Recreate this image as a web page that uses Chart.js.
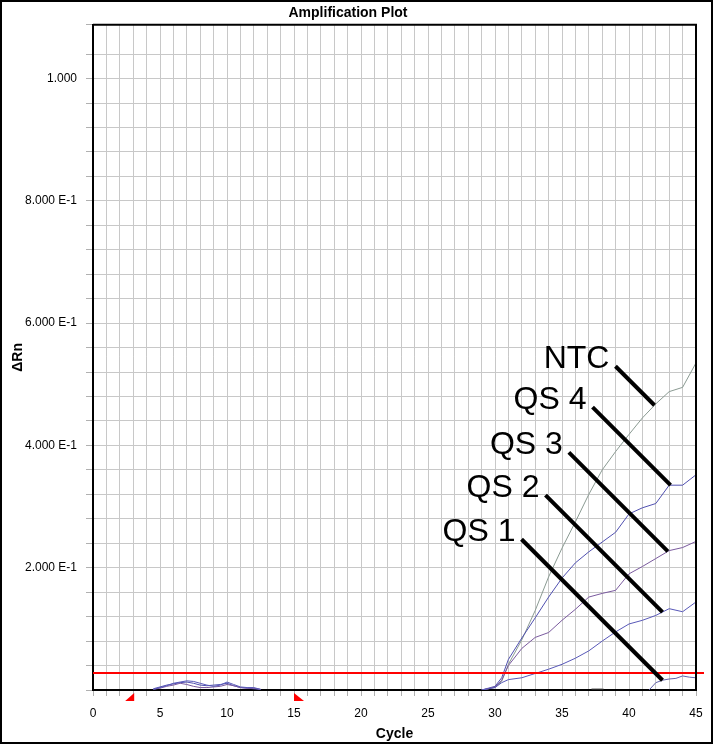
<!DOCTYPE html>
<html>
<head>
<meta charset="utf-8">
<script src="https://cdn.jsdelivr.net/npm/chart.js@4.4.1/dist/chart.umd.min.js"></script>
<style>
    html, body { margin: 0; padding: 0; background: #fff; }
    canvas { display: block; }
</style>
</head>
<body>
<canvas id="migrafico" width="713" height="744"></canvas>
<script>
// ciclos del tramo de ruido de linea base
const ciclosRuido = [4.5, 5, 5.5, 6, 6.5, 7, 7.5, 8, 8.5, 9, 9.5, 10, 10.5, 11, 11.5, 12, 12.5];
const ruidoA = [0.001, 0.004, 0.007, 0.011, 0.013, 0.015, 0.014, 0.011, 0.008, 0.006, 0.008, 0.013, 0.009, 0.005, 0.004, 0.004, 0.001];
const ruidoB = [0.001, 0.003, 0.006, 0.008, 0.011, 0.009, 0.006, 0.004, 0.004, 0.005, 0.006, 0.009, 0.007, 0.004, 0.003, 0.003, 0.001];
const ruidoC = [0.002, 0.005, 0.008, 0.010, 0.012, 0.013, 0.011, 0.008, 0.007, 0.008, 0.009, 0.011, 0.007, 0.004, 0.003, 0.002, 0.001];

// ciclos de la amplificacion
const ciclos = [29, 29.5, 30, 30.5, 31, 32, 33, 34, 35, 36, 37, 38, 39, 40, 41, 42, 43, 44, 45];
const ntc = [0, 0.002, 0.004, 0.014, 0.042, 0.082, 0.130, 0.185, 0.232, 0.275, 0.320, 0.360, 0.390, 0.418, 0.445, 0.468, 0.488, 0.495, 0.535];
const qs4 = [0, 0.003, 0.006, 0.020, 0.050, 0.085, 0.118, 0.152, 0.183, 0.208, 0.226, 0.242, 0.258, 0.288, 0.298, 0.305, 0.335, 0.335, 0.352];
const qs3 = [0, 0.002, 0.005, 0.016, 0.040, 0.068, 0.086, 0.094, 0.114, 0.132, 0.152, 0.158, 0.163, 0.190, 0.202, 0.215, 0.228, 0.233, 0.243];
const qs2 = [0, 0.002, 0.004, 0.012, 0.017, 0.020, 0.027, 0.034, 0.042, 0.052, 0.064, 0.080, 0.095, 0.108, 0.114, 0.122, 0.133, 0.128, 0.144];

const ciclosQs1 = [41.5, 42, 42.5, 43, 43.5, 44, 44.5, 45];
const qs1 = [0, 0.012, 0.016, 0.018, 0.019, 0.023, 0.021, 0.020];

const ciclosResto = [37.2, 38.1];
const resto = [0.002, 0.002];

// umbral y marcas de linea base
const umbral = 0.028;
const lineaBase = [3, 15];

// etiquetas de ejes
const ticksX = [0, 5, 10, 15, 20, 25, 30, 35, 40, 45];
const ticksY = [0.2, 0.4, 0.6, 0.8, 1.0];
const textosY = ['2.000 E-1', '4.000 E-1', '6.000 E-1', '8.000 E-1', '1.000'];

function puntos(tramos) {
    let arr = [];
    tramos.forEach((t, i) => {
        if (i > 0) arr.push({ x: t[0][0] - 0.1, y: null });
        t[0].forEach((c, j) => arr.push({ x: c, y: t[1][j] }));
    });
    return arr;
}

function valorEn(xs, ys, c) {
    for (let i = 0; i < xs.length - 1; i++) {
        if (c >= xs[i] && c <= xs[i + 1]) {
            const t = (c - xs[i]) / (xs[i + 1] - xs[i]);
            return ys[i] + t * (ys[i + 1] - ys[i]);
        }
    }
    return ys[ys.length - 1];
}

// etiquetas grandes con linea guia
const anotaciones = [
    { texto: 'NTC', ciclo: 41.9, xs: ciclos, ys: ntc, largo: 39 },
    { texto: 'QS 4', ciclo: 43.1, xs: ciclos, ys: qs4, largo: 78 },
    { texto: 'QS 3', ciclo: 42.9, xs: ciclos, ys: qs3, largo: 99 },
    { texto: 'QS 2', ciclo: 42.5, xs: ciclos, ys: qs2, largo: 117 },
    { texto: 'QS 1', ciclo: 42.5, xs: ciclosQs1, ys: qs1, largo: 141 }
];

const extras = {
    id: 'extras',
    beforeDraw(chart) {
        const ctx = chart.ctx;
        ctx.save();
        ctx.fillStyle = '#fff';
        ctx.fillRect(0, 0, chart.width, chart.height);
        ctx.restore();
    },
    afterDatasetsDraw(chart) {
        const ctx = chart.ctx;
        const a = chart.chartArea;
        const sx = chart.scales.x;
        const sy = chart.scales.y;
        ctx.save();

        // linea de umbral
        const yu = sy.getPixelForValue(umbral);
        ctx.strokeStyle = '#ff0000';
        ctx.lineWidth = 2;
        ctx.beginPath();
        ctx.moveTo(a.left, yu);
        ctx.lineTo(a.right + 8, yu);
        ctx.stroke();

        // marco superior y derecho
        ctx.strokeStyle = '#000';
        ctx.lineWidth = 2;
        ctx.beginPath();
        ctx.moveTo(a.left, a.top);
        ctx.lineTo(a.right, a.top);
        ctx.lineTo(a.right, a.bottom);
        ctx.stroke();

        // triangulos de linea base
        ctx.fillStyle = '#ff0000';
        const yb = a.bottom + 3;
        let x1 = sx.getPixelForValue(lineaBase[0]);
        ctx.beginPath();
        ctx.moveTo(x1 + 1, yb);
        ctx.lineTo(x1 + 1, yb + 8);
        ctx.lineTo(x1 - 8, yb + 8);
        ctx.closePath();
        ctx.fill();
        let x2 = sx.getPixelForValue(lineaBase[1]);
        ctx.beginPath();
        ctx.moveTo(x2, yb);
        ctx.lineTo(x2, yb + 8);
        ctx.lineTo(x2 + 10, yb + 8);
        ctx.closePath();
        ctx.fill();

        // anotaciones
        ctx.font = '32px "Liberation Sans", Arial, sans-serif';
        ctx.textAlign = 'right';
        ctx.textBaseline = 'alphabetic';
        ctx.fillStyle = '#000';
        ctx.strokeStyle = '#000';
        ctx.lineWidth = 4;
        anotaciones.forEach(an => {
            const ex = sx.getPixelForValue(an.ciclo);
            const ey = sy.getPixelForValue(valorEn(an.xs, an.ys, an.ciclo));
            const ix = ex - an.largo;
            const iy = ey - an.largo;
            ctx.beginPath();
            ctx.moveTo(ix, iy);
            ctx.lineTo(ex, ey);
            ctx.stroke();
            ctx.fillText(an.texto, ix - 6, iy + 2);
        });

        // borde exterior
        ctx.lineWidth = 2;
        ctx.strokeRect(1, 1, chart.width - 2, chart.height - 2);
        ctx.restore();
    }
};

const fuente = { family: '"Liberation Sans", Arial, sans-serif', size: 12 };
const fuenteBold = { family: '"Liberation Sans", Arial, sans-serif', size: 14, weight: 'bold' };

function serie(label, data, color) {
    return {
        label: label,
        data: data,
        borderColor: color,
        borderWidth: 1,
        pointRadius: 0,
        tension: 0,
        spanGaps: false,
        fill: false
    };
}

const ctx = document.getElementById('migrafico').getContext('2d');
const myChart = new Chart(ctx, {
    type: 'line',
    data: {
        datasets: [
            serie('QS 1', puntos([[ciclosQs1, qs1]]), '#6262aa'),
            serie('QS 2', puntos([[ciclosRuido, ruidoA], [ciclos, qs2]]), '#5858b8'),
            serie('QS 3', puntos([[ciclosRuido, ruidoB], [ciclos, qs3]]), '#7a5a9e'),
            serie('QS 4', puntos([[ciclosRuido, ruidoC], [ciclos, qs4]]), '#5050b0'),
            serie('NTC', puntos([[ciclos, ntc]]), '#8a9a92'),
            serie('resto', puntos([[ciclosResto, resto]]), '#909090')
        ]
    },
    options: {
        responsive: false,
        animation: false,
        devicePixelRatio: 1,
        layout: { padding: { left: 0, right: 17, top: 0, bottom: 0 } },
        plugins: {
            legend: { display: false },
            tooltip: { enabled: false },
            title: {
                display: true,
                text: 'Amplification Plot',
                color: '#000',
                font: fuenteBold,
                padding: { top: 5, bottom: 3 }
            }
        },
        scales: {
            x: {
                type: 'linear',
                min: 0,
                max: 45,
                afterFit(scale) { scale.height = 54; },
                border: { color: '#000', width: 2 },
                grid: { color: '#c8c8c8', tickLength: 6, tickColor: '#b0b0b0' },
                ticks: {
                    stepSize: 1,
                    autoSkip: false,
                    maxRotation: 0,
                    padding: 10,
                    color: '#000',
                    font: fuente,
                    callback: v => ticksX.includes(v) ? String(v) : ''
                },
                title: {
                    display: true,
                    text: 'Cycle',
                    color: '#000',
                    font: fuenteBold,
                    padding: { top: 0, bottom: 1 }
                }
            },
            y: {
                type: 'linear',
                min: 0,
                max: 1.088,
                afterFit(scale) { scale.width = 93; },
                border: { color: '#000', width: 2 },
                grid: { color: '#c8c8c8', tickLength: 7, tickColor: '#b0b0b0' },
                ticks: {
                    stepSize: 0.04,
                    autoSkip: false,
                    padding: 9,
                    color: '#000',
                    font: fuente,
                    callback: v => {
                        const i = ticksY.findIndex(t => Math.abs(t - v) < 1e-6);
                        return i >= 0 ? textosY[i] : '';
                    }
                },
                title: {
                    display: true,
                    text: 'ΔRn',
                    color: '#000',
                    font: fuenteBold,
                    padding: { top: 10, bottom: 0 }
                }
            }
        }
    },
    plugins: [extras]
});
</script>
</body>
</html>
